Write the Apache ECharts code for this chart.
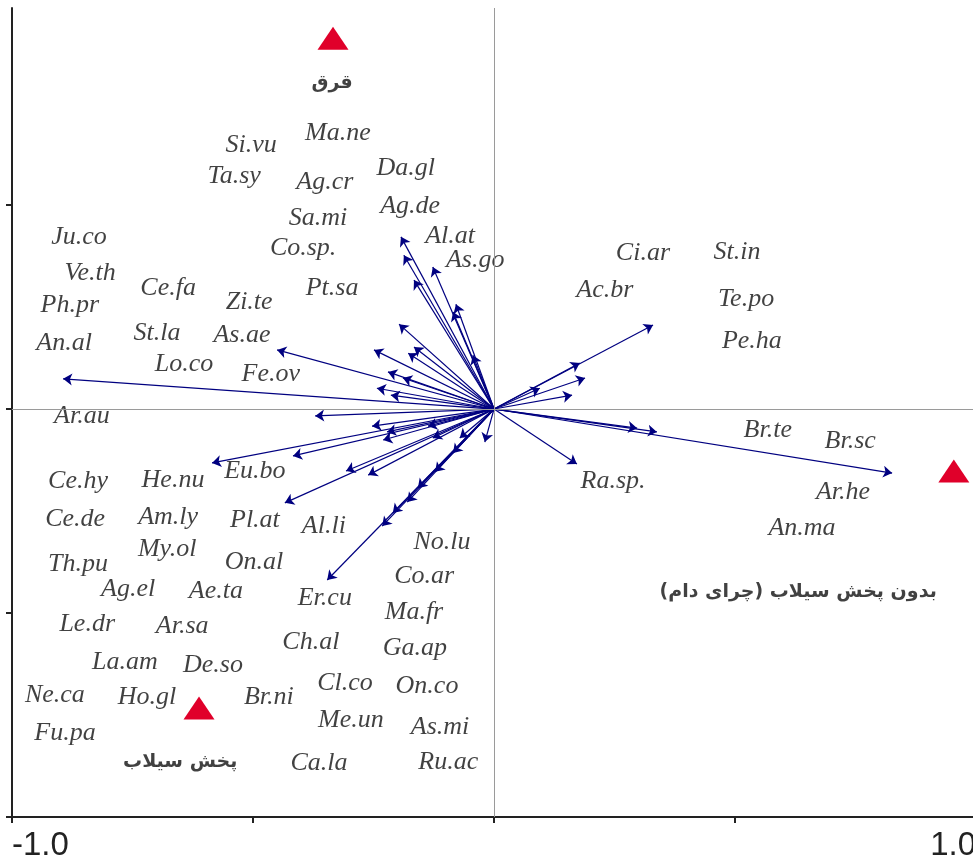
<!DOCTYPE html>
<html>
<head>
<meta charset="utf-8">
<script src="https://cdn.jsdelivr.net/npm/echarts@6/dist/echarts.min.js"></script>
<style>
html,body{margin:0;padding:0;background:#fff;}
#chart{width:973px;height:858px;}
</style>
</head>
<body>
<div id="chart"></div>
<script>
// Species arrow tips (CCA scores)
const arrowX = [-0.193,-0.187,-0.166,-0.127,-0.079,-0.085,-0.044,-0.197,-0.249,-0.166,-0.178,-0.220,-0.189,-0.243,-0.214,-0.450,-0.894,
  -0.371,-0.585,-0.417,-0.307,-0.434,-0.253,-0.222,-0.230,-0.137,-0.127,-0.261,-0.071,-0.019,-0.085,-0.122,-0.158,-0.180,-0.210,-0.232,-0.346,
  0.330,0.178,0.189,0.095,0.162,0.297,0.338,0.826,0.172];
const arrowY = [0.422,0.377,0.316,0.348,0.257,0.238,0.132,0.208,0.145,0.152,0.137,0.091,0.076,0.051,0.034,0.145,0.074,
  -0.017,-0.132,-0.115,-0.152,-0.230,-0.042,-0.056,-0.076,-0.042,-0.071,-0.162,-0.071,-0.081,-0.108,-0.154,-0.194,-0.228,-0.255,-0.287,-0.419,
  0.206,0.113,0.076,0.051,0.034,-0.047,-0.056,-0.157,-0.135];

// Species label names and positions
const speciesNames = ['Si.vu','Ma.ne','Ta.sy','Ag.cr','Da.gl','Sa.mi','Ag.de','Ju.co','Co.sp.','Al.at','As.go','Ve.th','Ce.fa','Pt.sa','Zi.te','Ph.pr','St.la','As.ae','An.al','Lo.co','Fe.ov','Ar.au',
  'Ci.ar','St.in','Ac.br','Te.po','Pe.ha','Br.te','Br.sc','Ra.sp.','Ar.he','An.ma',
  'Ce.hy','He.nu','Eu.bo','Ce.de','Am.ly','Pl.at','Al.li','My.ol','Th.pu','On.al','No.lu','Ag.el','Ae.ta','Er.cu','Co.ar','Ma.fr','Le.dr','Ar.sa','Ch.al','Ga.ap','La.am','De.so','Cl.co','On.co','Ne.ca','Ho.gl','Br.ni','Me.un','As.mi','Fu.pa','Ca.la','Ru.ac'];
const speciesX = [-0.504,-0.324,-0.539,-0.351,-0.183,-0.365,-0.174,-0.861,-0.396,-0.091,-0.039,-0.838,-0.676,-0.336,-0.508,-0.880,-0.699,-0.523,-0.892,-0.643,-0.463,-0.855,
  0.309,0.504,0.230,0.523,0.535,0.568,0.739,0.247,0.724,0.639,
  -0.863,-0.666,-0.496,-0.869,-0.676,-0.496,-0.353,-0.678,-0.863,-0.498,-0.108,-0.759,-0.577,-0.351,-0.145,-0.166,-0.844,-0.647,-0.380,-0.164,-0.766,-0.583,-0.309,-0.139,-0.911,-0.720,-0.467,-0.297,-0.112,-0.890,-0.363,-0.095];
const speciesY = [0.647,0.676,0.570,0.556,0.591,0.468,0.498,0.422,0.395,0.424,0.365,0.333,0.297,0.297,0.262,0.255,0.186,0.181,0.162,0.110,0.086,-0.017,
  0.382,0.385,0.292,0.270,0.167,-0.051,-0.078,-0.176,-0.203,-0.292,
  -0.176,-0.174,-0.152,-0.270,-0.265,-0.272,-0.287,-0.343,-0.380,-0.375,-0.326,-0.441,-0.446,-0.463,-0.409,-0.498,-0.527,-0.532,-0.571,-0.586,-0.620,-0.627,-0.672,-0.679,-0.701,-0.706,-0.706,-0.762,-0.779,-0.794,-0.868,-0.865];

// Environmental (treatment) centroids
const envNames = ['قرق','پخش سیلاب','بدون پخش سیلاب (چرای دام)'];
const envX = [-0.334,-0.612,0.954];
const envY = [0.909,-0.733,-0.152];
const envLabelX = [-0.336,-0.651,0.631];
const envLabelY = [0.799,-0.865,-0.449];

// Axis tick labels
const xLabelValues = [-1, 1];
const xLabelTexts = ['-1.0','1.0'];

const chart = echarts.init(document.getElementById('chart'), null, {renderer:'canvas'});

const option = {
  animation: false,
  backgroundColor: '#ffffff',
  grid: {left: 12, top: 8, width: 964, height: 809, containLabel: false, outerBoundsMode: 'none'},
  xAxis: {
    type: 'value', min: -1, max: 1, interval: 0.5,
    axisLine: {show: true, onZero: false, lineStyle: {color: '#222', width: 2}},
    axisTick: {show: true, length: 6, lineStyle: {color: '#222', width: 2}},
    splitLine: {show: false},
    axisLabel: {
      show: true, customValues: xLabelValues,
      alignMinLabel: 'left', alignMaxLabel: 'right',
      margin: 12, color: '#222', fontSize: 33, fontFamily: 'Liberation Sans, Arial, sans-serif',
      formatter: function (v) { const i = xLabelValues.indexOf(v); return i >= 0 ? xLabelTexts[i] : ''; }
    }
  },
  yAxis: {
    type: 'value', min: -1, max: 0.983, interval: 0.5,
    axisLine: {show: true, onZero: false, lineStyle: {color: '#222', width: 2}},
    axisTick: {show: true, length: 6, customValues: [-1, -0.5, 0, 0.5], lineStyle: {color: '#222', width: 2}},
    splitLine: {show: false},
    axisLabel: {show: false}
  },
  series: [
    {
      type: 'scatter', z: 1, symbolSize: 0, data: [],
      markLine: {
        silent: true, symbol: 'none', label: {show: false},
        lineStyle: {color: '#9a9a9a', type: 'solid', width: 1},
        data: [{xAxis: 0}, {yAxis: 0}]
      }
    },
    {
      type: 'lines', coordinateSystem: 'cartesian2d', z: 3,
      symbol: ['none', 'arrow'], symbolSize: 9,
      lineStyle: {color: '#000080', width: 1.2, opacity: 1, curveness: 0},
      data: arrowX.map((x, i) => ({coords: [[0, 0], [x, arrowY[i]]]}))
    },
    {
      type: 'scatter', z: 4, symbolSize: 0, silent: true,
      data: speciesNames.map((n, i) => ({name: n, value: [speciesX[i], speciesY[i]]})),
      label: {
        show: true, position: 'inside', formatter: '{b}',
        color: '#111', fontSize: 26, fontStyle: 'italic',
        fontFamily: 'Liberation Serif, Times New Roman, serif'
      }
    },
    {
      type: 'scatter', z: 5, symbol: 'triangle', symbolSize: [31, 23],
      itemStyle: {color: '#e0002a', opacity: 1},
      data: envX.map((x, i) => [x, envY[i]])
    },
    {
      type: 'scatter', z: 5, symbolSize: 0, silent: true,
      data: envNames.map((n, i) => ({name: n, value: [envLabelX[i], envLabelY[i]]})),
      label: {
        show: true, position: 'inside', formatter: '{b}',
        color: '#111', fontSize: 19, fontWeight: 'bold',
        fontFamily: 'DejaVu Sans, sans-serif'
      }
    }
  ]
};
chart.setOption(option);
</script>
</body>
</html>
